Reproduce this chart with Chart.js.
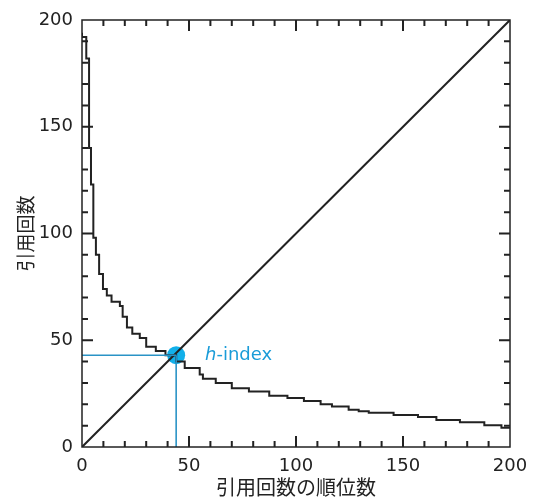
<!DOCTYPE html>
<html>
<head>
<meta charset="utf-8">
<script src="https://cdn.jsdelivr.net/npm/chart.js@4.4.1/dist/chart.umd.min.js"></script>
<style>
  html, body { margin: 0; padding: 0; background: #fff; }
  #wrap { width: 537px; height: 503px; }
</style>
</head>
<body>
<div id="wrap"><canvas id="hChart" width="537" height="503"></canvas></div>
<script>
// rank where each citation level starts, and the citation count at that level
const rankStart = [0, 2, 3.3, 4.2, 5.3, 6.5, 8, 9.8, 11.6, 13.8, 17.7, 19, 21, 23.5, 27, 30, 34.5, 39, 44, 48, 55, 56.5, 62.5, 70, 78, 87.5, 96, 103.7, 111.5, 116.8, 124.6, 129.3, 134, 145.6, 157, 165.6, 176.6, 188, 196, 199.5, 200];
const citations = [194, 192, 182, 140, 123, 98, 90, 81, 74, 71, 68, 66, 61, 56, 53, 51, 47, 45, 43, 40, 37, 34, 32, 30, 27.5, 26, 24, 23, 21.5, 20, 19, 17.5, 16.7, 16, 15, 14, 12.7, 11.6, 10.2, 9, 9];
const hIndex = 44;
const hCitations = 43;
const axisTicks = [0, 50, 100, 150, 200];
const xTitle = "引用回数の順位数";
const yTitle = "引用回数";

const FONT = "'DejaVu Sans', 'Noto Sans CJK JP', sans-serif";
const JFONT = "'Noto Sans CJK JP', sans-serif";
const blue = "#2a93c6";
const cyan = "#12b0ea";

const curve = rankStart.map((r, i) => ({ x: r, y: citations[i] }));

// inward ticks on all four sides + frame + h-index label
const framePlugin = {
  id: "frame",
  afterDatasetsDraw(chart) {
    const { ctx, chartArea: a, scales: { x, y } } = chart;
    ctx.save();
    ctx.strokeStyle = "#222";
    ctx.lineWidth = 1.5;
    ctx.strokeRect(a.left, a.top, a.right - a.left, a.bottom - a.top);
    ctx.lineWidth = 2;
    for (let v = 10; v < 200; v += 10) {
      const len = v % 50 === 0 ? 11 : 6;
      const px = x.getPixelForValue(v);
      const py = y.getPixelForValue(v);
      ctx.beginPath();
      ctx.moveTo(px, a.bottom); ctx.lineTo(px, a.bottom - len);
      ctx.moveTo(px, a.top); ctx.lineTo(px, a.top + len);
      ctx.moveTo(a.left, py); ctx.lineTo(a.left + len, py);
      ctx.moveTo(a.right, py); ctx.lineTo(a.right - len, py);
      ctx.stroke();
    }
    // label
    const lx = x.getPixelForValue(57.5);
    const ly = y.getPixelForValue(hCitations);
    ctx.fillStyle = "#1a9cd8";
    ctx.textBaseline = "middle";
    ctx.textAlign = "left";
    ctx.font = "italic 18px " + FONT;
    ctx.fillText("h", lx, ly);
    const w = ctx.measureText("h").width;
    ctx.font = "18px " + FONT;
    ctx.fillText("-index", lx + w, ly);
    ctx.restore();
  }
};

new Chart(document.getElementById("hChart"), {
  type: "scatter",
  data: {
    datasets: [
      {
        data: [{ x: 0, y: hCitations }, { x: hIndex, y: hCitations }],
        showLine: true, borderColor: blue, borderWidth: 1.6, pointRadius: 0
      },
      {
        data: [{ x: hIndex, y: 0 }, { x: hIndex, y: hCitations }],
        showLine: true, borderColor: blue, borderWidth: 1.6, pointRadius: 0
      },
      {
        data: [{ x: 0, y: 0 }, { x: 200, y: 200 }],
        showLine: true, borderColor: "#222", borderWidth: 2, pointRadius: 0
      },
      {
        data: curve,
        showLine: true, stepped: "after", borderColor: "#222", borderWidth: 2, pointRadius: 0
      },
      {
        data: [{ x: hIndex, y: hCitations }],
        pointRadius: 9, pointBackgroundColor: cyan, pointBorderColor: cyan, pointBorderWidth: 0
      }
    ]
  },
  options: {
    responsive: false,
    animation: false,
    layout: { padding: { top: 20, right: 27, left: 0, bottom: 0 } },
    plugins: { legend: { display: false }, tooltip: { enabled: false } },
    scales: {
      x: {
        type: "linear", min: 0, max: 200,
        afterBuildTicks: (s) => { s.ticks = axisTicks.map(v => ({ value: v })); },
        afterFit: (s) => { s.height = 56; },
        grid: { display: false, drawTicks: false },
        border: { display: false },
        ticks: { color: "#222", padding: 9, font: { family: FONT, size: 18 } },
        title: { display: true, text: xTitle, color: "#222", padding: { top: 0 }, font: { family: JFONT, size: 20 } }
      },
      y: {
        type: "linear", min: 0, max: 200,
        afterBuildTicks: (s) => { s.ticks = axisTicks.map(v => ({ value: v })); },
        afterFit: (s) => { s.width = 82; },
        grid: { display: false, drawTicks: false },
        border: { display: false },
        ticks: { color: "#222", padding: 9, font: { family: FONT, size: 18 } },
        title: { display: true, text: yTitle, color: "#222", padding: { top: 14, bottom: 0 }, font: { family: JFONT, size: 19 } }
      }
    }
  },
  plugins: [framePlugin]
});
</script>
</body>
</html>
